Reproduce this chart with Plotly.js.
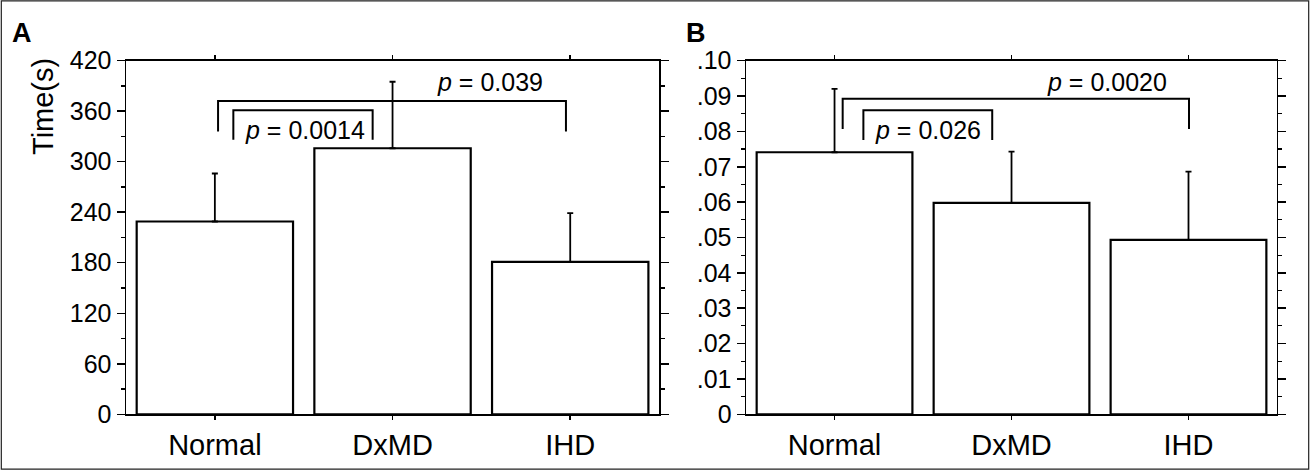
<!DOCTYPE html>
<html>
<head>
<meta charset="utf-8">
<script src="https://cdn.plot.ly/plotly-3.0.1.min.js"></script>
<style>html,body{margin:0;padding:0;background:#fff;}#chart{width:1310px;height:470px;}</style>
</head>
<body>
<div id="chart"></div>
<script>
// ---- data ----
const categories = ["Normal", "DxMD", "IHD"];
const timeMeans = [229, 316, 181];        // panel A, seconds
const timeErrors = [57, 79, 58];           // panel A, +SD
const ratioMeans = [0.0741, 0.0598, 0.0493]; // panel B
const ratioErrors = [0.0179, 0.0145, 0.0193];
const yTicksA = [0, 60, 120, 180, 240, 300, 360, 420];
const yTickTextA = ["0", "60", "120", "180", "240", "300", "360", "420"];
const yTicksB = [0, 0.01, 0.02, 0.03, 0.04, 0.05, 0.06, 0.07, 0.08, 0.09, 0.10];
const yTickTextB = ["0", ".01", ".02", ".03", ".04", ".05", ".06", ".07", ".08", ".09", ".10"];
const pLabelsA = ["0.0014", "0.039"];
const pLabelsB = ["0.026", "0.0020"];
// bracket levels (data units): [top, bottom of legs]
const bracketLevelsA = [[361, 326], [372, 336]];
const bracketLevelsB = [[0.0860, 0.0776], [0.0892, 0.0807]];

const FONT = "Liberation Sans, Arial, Helvetica, sans-serif";

function barTrace(y, err, xa, ya) {
  return {
    type: "bar", x: categories, y: y, xaxis: xa, yaxis: ya,
    marker: {color: "#ffffff", line: {color: "#000", width: 2.2}},
    error_y: {type: "data", symmetric: false, array: err, arrayminus: err.map(() => 0),
              color: "#000", thickness: 1.8, width: 3},
    hoverinfo: "skip", showlegend: false
  };
}

function bracket(xref, yref, x0, x1, lev) {
  return {
    type: "path", xref: xref, yref: yref,
    path: `M ${x0} ${lev[1]} L ${x0} ${lev[0]} L ${x1} ${lev[0]} L ${x1} ${lev[1]}`,
    line: {color: "#000", width: 2}
  };
}

const xBase = {
  type: "category", range: [-0.5, 2.5], showline: true, linecolor: "#000", linewidth: 2,
  mirror: "ticks", ticks: "outside", ticklen: 4, tickwidth: 1.5, tickcolor: "#000",
  tickfont: {family: FONT, size: 29, color: "#000"}, showgrid: false, zeroline: false,
  automargin: false, fixedrange: true
};
const yBase = {
  showline: true, linecolor: "#000", linewidth: 1.5, mirror: "ticks",
  ticks: "outside", ticklen: 8, tickwidth: 1.5, tickcolor: "#000",
  tickfont: {family: FONT, size: 25, color: "#000"}, showgrid: false, zeroline: false,
  tickmode: "array", automargin: false, fixedrange: true, domain: [0.1185, 0.8709]
};

const layout = {
  width: 1310, height: 470,
  margin: {l: 0, r: 0, t: 0, b: 0},
  paper_bgcolor: "#fff", plot_bgcolor: "#fff",
  bargap: 0.12,
  xaxis: Object.assign({}, xBase, {domain: [0.0962, 0.5031], anchor: "y"}),
  yaxis: Object.assign({}, yBase, {range: [0, 420], tickvals: yTicksA, ticktext: yTickTextA, anchor: "x",
    minor: {ticks: "outside", ticklen: 4, dtick: 30, tickwidth: 1.2, tickcolor: "#000"}}),
  xaxis2: Object.assign({}, xBase, {domain: [0.5695, 0.9748], anchor: "y2"}),
  yaxis2: Object.assign({}, yBase, {range: [0, 0.10], tickvals: yTicksB, ticktext: yTickTextB, anchor: "x2",
    minor: {ticks: "outside", ticklen: 4, dtick: 0.005, tickwidth: 1.2, tickcolor: "#000"}}),
  shapes: [
    {type: "rect", xref: "paper", yref: "paper", x0: 0.001, x1: 0.999, y0: 0.002, y1: 0.998,
     line: {color: "#222", width: 1.2}},
    bracket("x", "y", 0.104, 0.888, bracketLevelsA[0]),
    bracket("x", "y", 0.018, 1.976, bracketLevelsA[1]),
    bracket("x2", "y2", 0.163, 0.891, bracketLevelsB[0]),
    bracket("x2", "y2", 0.046, 2.003, bracketLevelsB[1])
  ],
  annotations: [
    {xref: "paper", yref: "paper", x: 10 / 1310, y: 1 - 16 / 470, xanchor: "left", yanchor: "top",
     text: "<b>A</b>", showarrow: false, font: {family: FONT, size: 27, color: "#000"}},
    {xref: "paper", yref: "paper", x: 684 / 1310, y: 1 - 16 / 470, xanchor: "left", yanchor: "top",
     text: "<b>B</b>", showarrow: false, font: {family: FONT, size: 27, color: "#000"}},
    {xref: "paper", yref: "paper", x: 43 / 1310, y: 1 - 107 / 470, xanchor: "center", yanchor: "middle",
     text: "Time(s)", textangle: -90, showarrow: false, font: {family: FONT, size: 29, color: "#000"}},
    {xref: "x", yref: "y", x: 0.507, y: 338, text: "<i>p</i> = " + pLabelsA[0], showarrow: false,
     font: {family: FONT, size: 25, color: "#000"}},
    {xref: "x", yref: "y", x: 1.548, y: 395, text: "<i>p</i> = " + pLabelsA[1], showarrow: false,
     font: {family: FONT, size: 25, color: "#000"}},
    {xref: "x2", yref: "y2", x: 0.528, y: 0.0804, text: "<i>p</i> = " + pLabelsB[0], showarrow: false,
     font: {family: FONT, size: 25, color: "#000"}},
    {xref: "x2", yref: "y2", x: 1.541, y: 0.0940, text: "<i>p</i> = " + pLabelsB[1], showarrow: false,
     font: {family: FONT, size: 25, color: "#000"}}
  ]
};

Plotly.newPlot("chart", [
  barTrace(timeMeans, timeErrors, "x", "y"),
  barTrace(ratioMeans, ratioErrors, "x2", "y2")
], layout, {displayModeBar: false, staticPlot: true});
</script>
</body>
</html>
